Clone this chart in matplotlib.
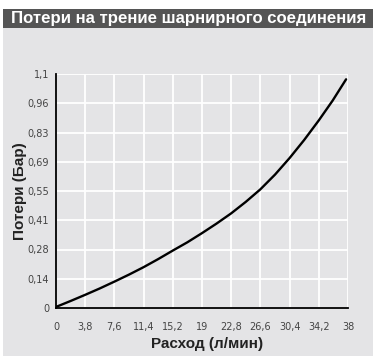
import matplotlib

matplotlib.use("Agg")
import matplotlib.pyplot as plt
from matplotlib.patches import Rectangle

# values
flow = [0, 1.9, 3.8, 5.7, 7.6, 9.5, 11.4, 13.3, 15.2, 17.1, 19,
        20.9, 22.8, 24.7, 26.6, 28.5, 30.4, 32.3, 34.2, 36.0, 37.75]
loss = [0.005, 0.033, 0.062, 0.092, 0.124, 0.157, 0.192, 0.23, 0.27, 0.309, 0.352,
        0.397, 0.445, 0.499, 0.558, 0.627, 0.705, 0.79, 0.882, 0.975, 1.075]

x_ticks = [0, 3.8, 7.6, 11.4, 15.2, 19, 22.8, 26.6, 30.4, 34.2, 38]
x_labels = ["0", "3,8", "7,6", "11,4", "15,2", "19", "22,8", "26,6", "30,4", "34,2", "38"]
y_ticks = [0, 0.1375, 0.275, 0.4125, 0.55, 0.6875, 0.825, 0.9625, 1.1]
y_labels = ["0", "0,14", "0,28", "0,41", "0,55", "0,69", "0,83", "0,96", "1,1"]

title = "Потери на трение шарнирного соединения"
xlabel = "Расход (л/мин)"
ylabel = "Потери (Бар)"

BG = "#e4e4e6"
BAR = "#555555"
W, H = 374, 356

fig = plt.figure(figsize=(W / 100, H / 100), dpi=100)
fig.patch.set_facecolor("white")

# light gray panel + dark title bar
fig.add_artist(Rectangle((3 / W, 0), 370 / W, 1 - 28 / H, transform=fig.transFigure,
                         facecolor=BG, edgecolor="none", zorder=-2))
fig.add_artist(Rectangle((3 / W, 1 - 28 / H), 370 / W, 19 / H, transform=fig.transFigure,
                         facecolor=BAR, edgecolor="none", zorder=-2))
fig.text(11 / W, 1 - 18.5 / H, title, color="white", fontsize=12.1, fontweight="bold",
         family="Liberation Sans", va="center", ha="left")

ax = fig.add_axes([56 / W, 1 - 308 / H, 292 / W, 234 / H])
ax.set_zorder(1)
ax.set_facecolor(BG)
ax.plot(flow, loss, color="black", lw=1.7, solid_capstyle="round", zorder=3)

ax.set_xlim(0, 38)
ax.set_ylim(0, 1.1)
ax.set_xticks(x_ticks)
ax.set_xticklabels(x_labels)
ax.set_yticks(y_ticks)
ax.set_yticklabels(y_labels)
ax.grid(True, color="white", lw=1.3)
ax.set_axisbelow(True)

for s in ("top", "right"):
    ax.spines[s].set_visible(False)
for s in ("left", "bottom"):
    ax.spines[s].set_color("black")
    ax.spines[s].set_linewidth(1.3)
    ax.spines[s].set_zorder(4)

ax.tick_params(length=0, labelsize=7, labelcolor="#444444")
ax.tick_params(axis="x", pad=10)
ax.tick_params(axis="y", pad=5)
for lab in ax.get_xticklabels() + ax.get_yticklabels():
    lab.set_family(["Liberation Sans Narrow", "DejaVu Sans"])

ax.set_xlabel(xlabel, fontsize=11, fontweight="bold", family="Liberation Sans",
              color="#222222")
ax.set_ylabel(ylabel, fontsize=11, fontweight="bold", family="Liberation Sans",
              color="#222222")
ax.xaxis.set_label_coords(0.517, -0.122)
ax.yaxis.set_label_coords(-0.10, 0.5)

fig.savefig("out.png", dpi=100)
